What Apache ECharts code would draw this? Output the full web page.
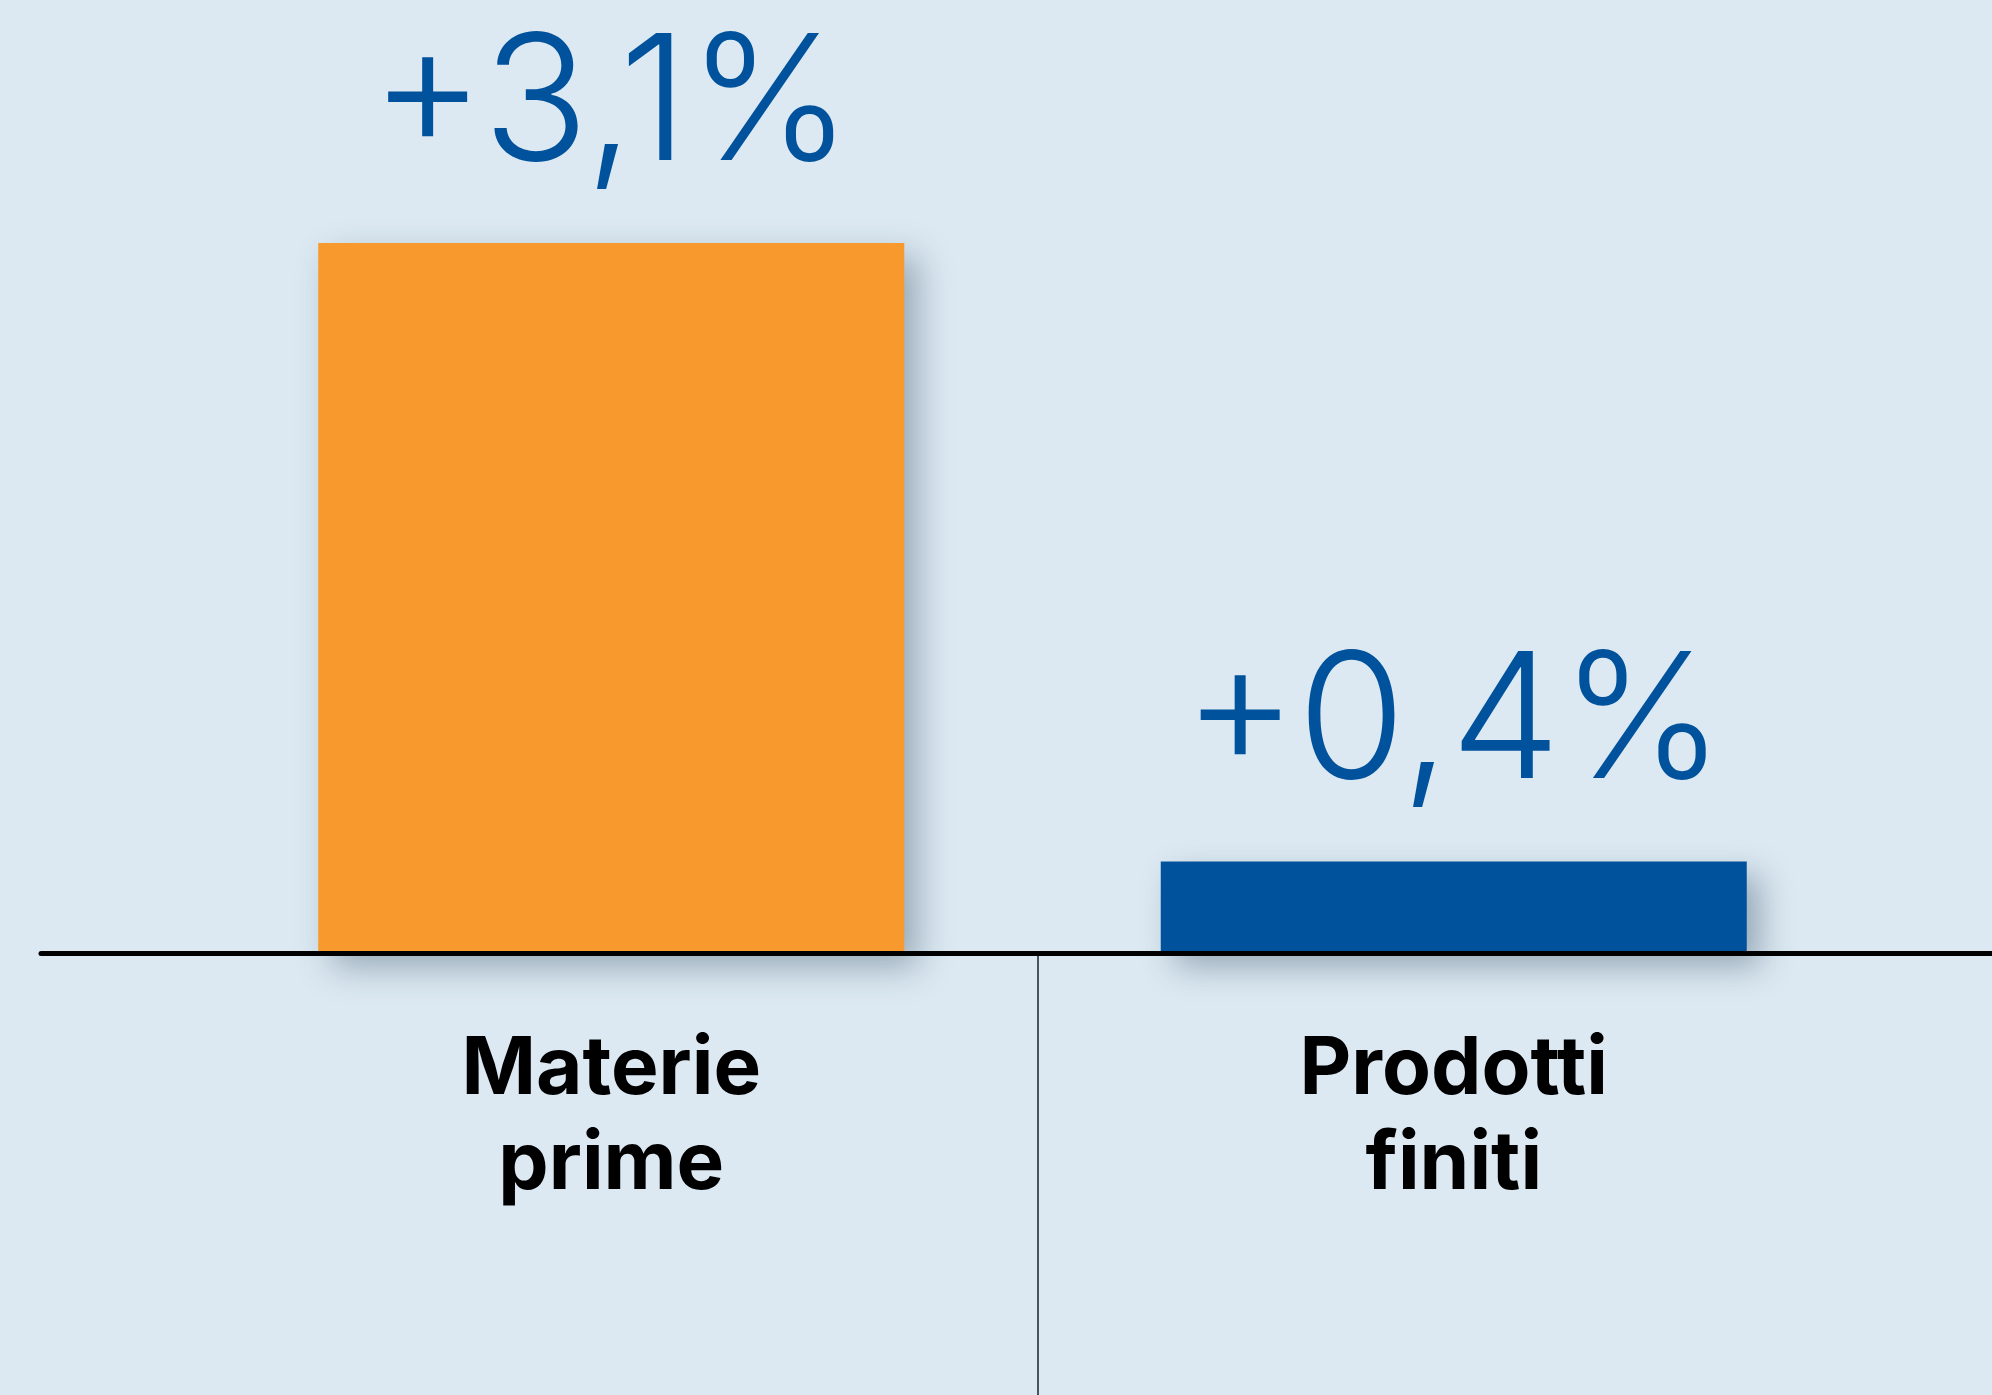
<!DOCTYPE html>
<html>
<head>
<meta charset="utf-8">
<title>Materie prime / Prodotti finiti</title>
<script src="https://cdn.jsdelivr.net/npm/echarts@6/dist/echarts.min.js"></script>
<style>
  html, body { margin: 0; padding: 0; background: #dce9f2; }
  #chart { width: 1992px; height: 1395px; }
</style>
</head>
<body>
<div id="chart"></div>
<script>
// categories and values (percent change)
const categories = ['Materie\nprime', 'Prodotti\nfiniti']
const values = [3.1, 0.4]
const valueLabels = ['+3,1%', '+0,4%']
const barColors = ['#f7992d', '#00529c']

const chart = echarts.init(document.getElementById('chart'))

const option = {
  backgroundColor: '#dce9f2',
  animation: false,
  grid: [
    // bars
    { left: 190, right: 117, top: 243, bottom: 442 },
    // long baseline that runs to the right edge
    { left: 41, right: 0, top: 243, bottom: 442 }
  ],
  xAxis: [
    {
      type: 'category',
      gridIndex: 0,
      data: categories,
      axisLine: { show: false },
      axisTick: { show: false },
      splitLine: { show: false },
      axisLabel: {
        margin: 69,
        color: '#000',
        fontFamily: 'Inter, "Open Sans", sans-serif',
        fontWeight: 700,
        fontSize: 80,
        lineHeight: 95
      }
    },
    {
      type: 'value',
      gridIndex: 1,
      z: 5,
      axisLine: {
        show: true,
        onZero: false,
        lineStyle: { color: '#000', width: 5 }
      },
      axisTick: { show: false },
      axisLabel: { show: false },
      splitLine: { show: false }
    }
  ],
  yAxis: [
    { type: 'value', gridIndex: 0, min: 0, max: 3.1, show: false },
    { type: 'value', gridIndex: 1, show: false }
  ],
  series: [
    {
      type: 'bar',
      xAxisIndex: 0,
      yAxisIndex: 0,
      barWidth: 586,
      clip: false,
      data: values.map((v, i) => ({
        value: v,
        itemStyle: { color: barColors[i] }
      })),
      itemStyle: {
        shadowColor: 'rgba(40, 65, 90, 0.38)',
        shadowBlur: 32,
        shadowOffsetX: 14,
        shadowOffsetY: 14
      },
      label: {
        show: true,
        position: 'top',
        distance: 48,
        color: '#00529c',
        fontFamily: 'Inter, Roboto, sans-serif',
        fontWeight: 300,
        fontSize: 175,
        lineHeight: 175,
        formatter: (p) => valueLabels[p.dataIndex]
      }
    }
  ],
  graphic: [
    {
      type: 'line',
      z: 10,
      shape: { x1: 1038, y1: 956, x2: 1038, y2: 1395 },
      style: { stroke: '#4a545e', lineWidth: 2 }
    }
  ]
}

chart.setOption(option)
window.addEventListener('resize', () => chart.resize())
</script>
</body>
</html>
